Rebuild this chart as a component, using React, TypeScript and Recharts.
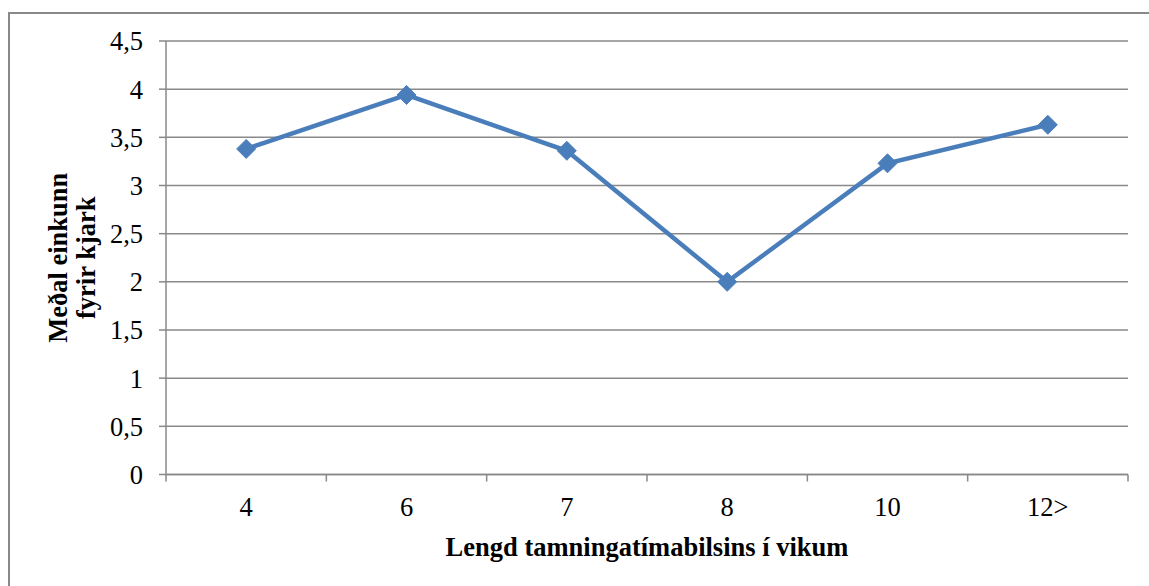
import React from 'react';
import { LineChart, Line, XAxis, YAxis, CartesianGrid, Label } from 'recharts';

const categories = ['4', '6', '7', '8', '10', '12>'];
const values = [3.38, 3.94, 3.36, 2.0, 3.23, 3.63];
const yTicks = [0, 0.5, 1, 1.5, 2, 2.5, 3, 3.5, 4, 4.5];
const xTicks = [0, 0.5, 1, 1.5, 2, 2.5, 3, 3.5, 4, 4.5, 5, 5.5, 6];
const xTitle = 'Lengd tamningatímabilsins í vikum';
const yTitleLines = ['Meðal einkunn', 'fyrir kjark'];

const data = categories.map((c, i) => ({ x: i + 0.5, cat: c, value: values[i] }));

const FONT = '"Liberation Serif", "Times New Roman", serif';
const GRID = '#898989';
const BLUE = '#4A7EBB';

const XTick = (props: any) => {
  const { x, y, payload } = props;
  const v = payload.value as number;
  if (Number.isInteger(v)) {
    return <line x1={x} y1={y} x2={x} y2={y + 7} stroke={GRID} strokeWidth={1.5} />;
  }
  return (
    <text x={x} y={y + 23} dy="0.71em" textAnchor="middle" fontFamily={FONT} fontSize={26.5} fill="#000">
      {categories[Math.floor(v)]}
    </text>
  );
};

const Diamond = (props: any) => {
  const { cx, cy } = props;
  if (cx == null || cy == null) return null;
  const r = 9.5;
  return (
    <path
      d={`M${cx},${cy - r}L${cx + r},${cy}L${cx},${cy + r}L${cx - r},${cy}Z`}
      fill={BLUE}
      stroke={BLUE}
      strokeWidth={1}
    />
  );
};

const YTitle = (props: any) => {
  const vb = props.viewBox || { x: 0, y: 27, width: 156, height: 433 };
  const cy = vb.y + vb.height / 2;
  const xs = [vb.x + 57, vb.x + 85];
  return (
    <g>
      {yTitleLines.map((t, i) => (
        <text
          key={i}
          x={xs[i]}
          y={cy}
          transform={`rotate(-90 ${xs[i]} ${cy})`}
          textAnchor="middle"
          fontFamily={FONT}
          fontWeight="bold"
          fontSize={26.5}
          fill="#000"
        >
          {t}
        </text>
      ))}
    </g>
  );
};

const XTitle = (props: any) => {
  const vb = props.viewBox || { x: 156, y: 460, width: 962, height: 99 };
  return (
    <text
      x={vb.x + vb.width / 2}
      y={vb.y + 81.5}
      textAnchor="middle"
      fontFamily={FONT}
      fontWeight="bold"
      fontSize={26.5}
      fill="#000"
    >
      {xTitle}
    </text>
  );
};

export default function App() {
  return (
    <div
      style={{
        position: 'fixed',
        left: 8,
        top: 12,
        width: 1141,
        height: 574,
        boxSizing: 'border-box',
        borderLeft: `2px solid ${GRID}`,
        borderTop: `2px solid ${GRID}`,
        background: '#fff',
        overflow: 'hidden',
      }}
    >
      <LineChart
        width={1139}
        height={572}
        data={data}
        margin={{ top: 27, right: 21, bottom: 0, left: 0 }}
      >
        <CartesianGrid vertical={false} stroke={GRID} strokeWidth={1.5} />
        <XAxis
          dataKey="x"
          type="number"
          domain={[0, 6]}
          ticks={xTicks}
          interval={0}
          height={111.5}
          tickSize={0}
          tickMargin={0}
          tickLine={false}
          axisLine={{ stroke: GRID, strokeWidth: 1.5 }}
          tick={<XTick />}
        >
          <Label content={<XTitle />} />
        </XAxis>
        <YAxis
          type="number"
          domain={[0, 4.5]}
          ticks={yTicks}
          interval={0}
          width={156}
          tickSize={7}
          tickMargin={16}
          tickLine={{ stroke: GRID, strokeWidth: 1.5 }}
          axisLine={{ stroke: GRID, strokeWidth: 1.5 }}
          tick={{ fontFamily: FONT, fontSize: 26.5, fill: '#000' }}
          tickFormatter={(v: number) => String(v).replace('.', ',')}
        >
          <Label content={<YTitle />} />
        </YAxis>
        <Line
          type="linear"
          dataKey="value"
          stroke={BLUE}
          strokeWidth={4.5}
          dot={<Diamond />}
          activeDot={false}
          isAnimationActive={false}
        />
      </LineChart>
    </div>
  );
}
